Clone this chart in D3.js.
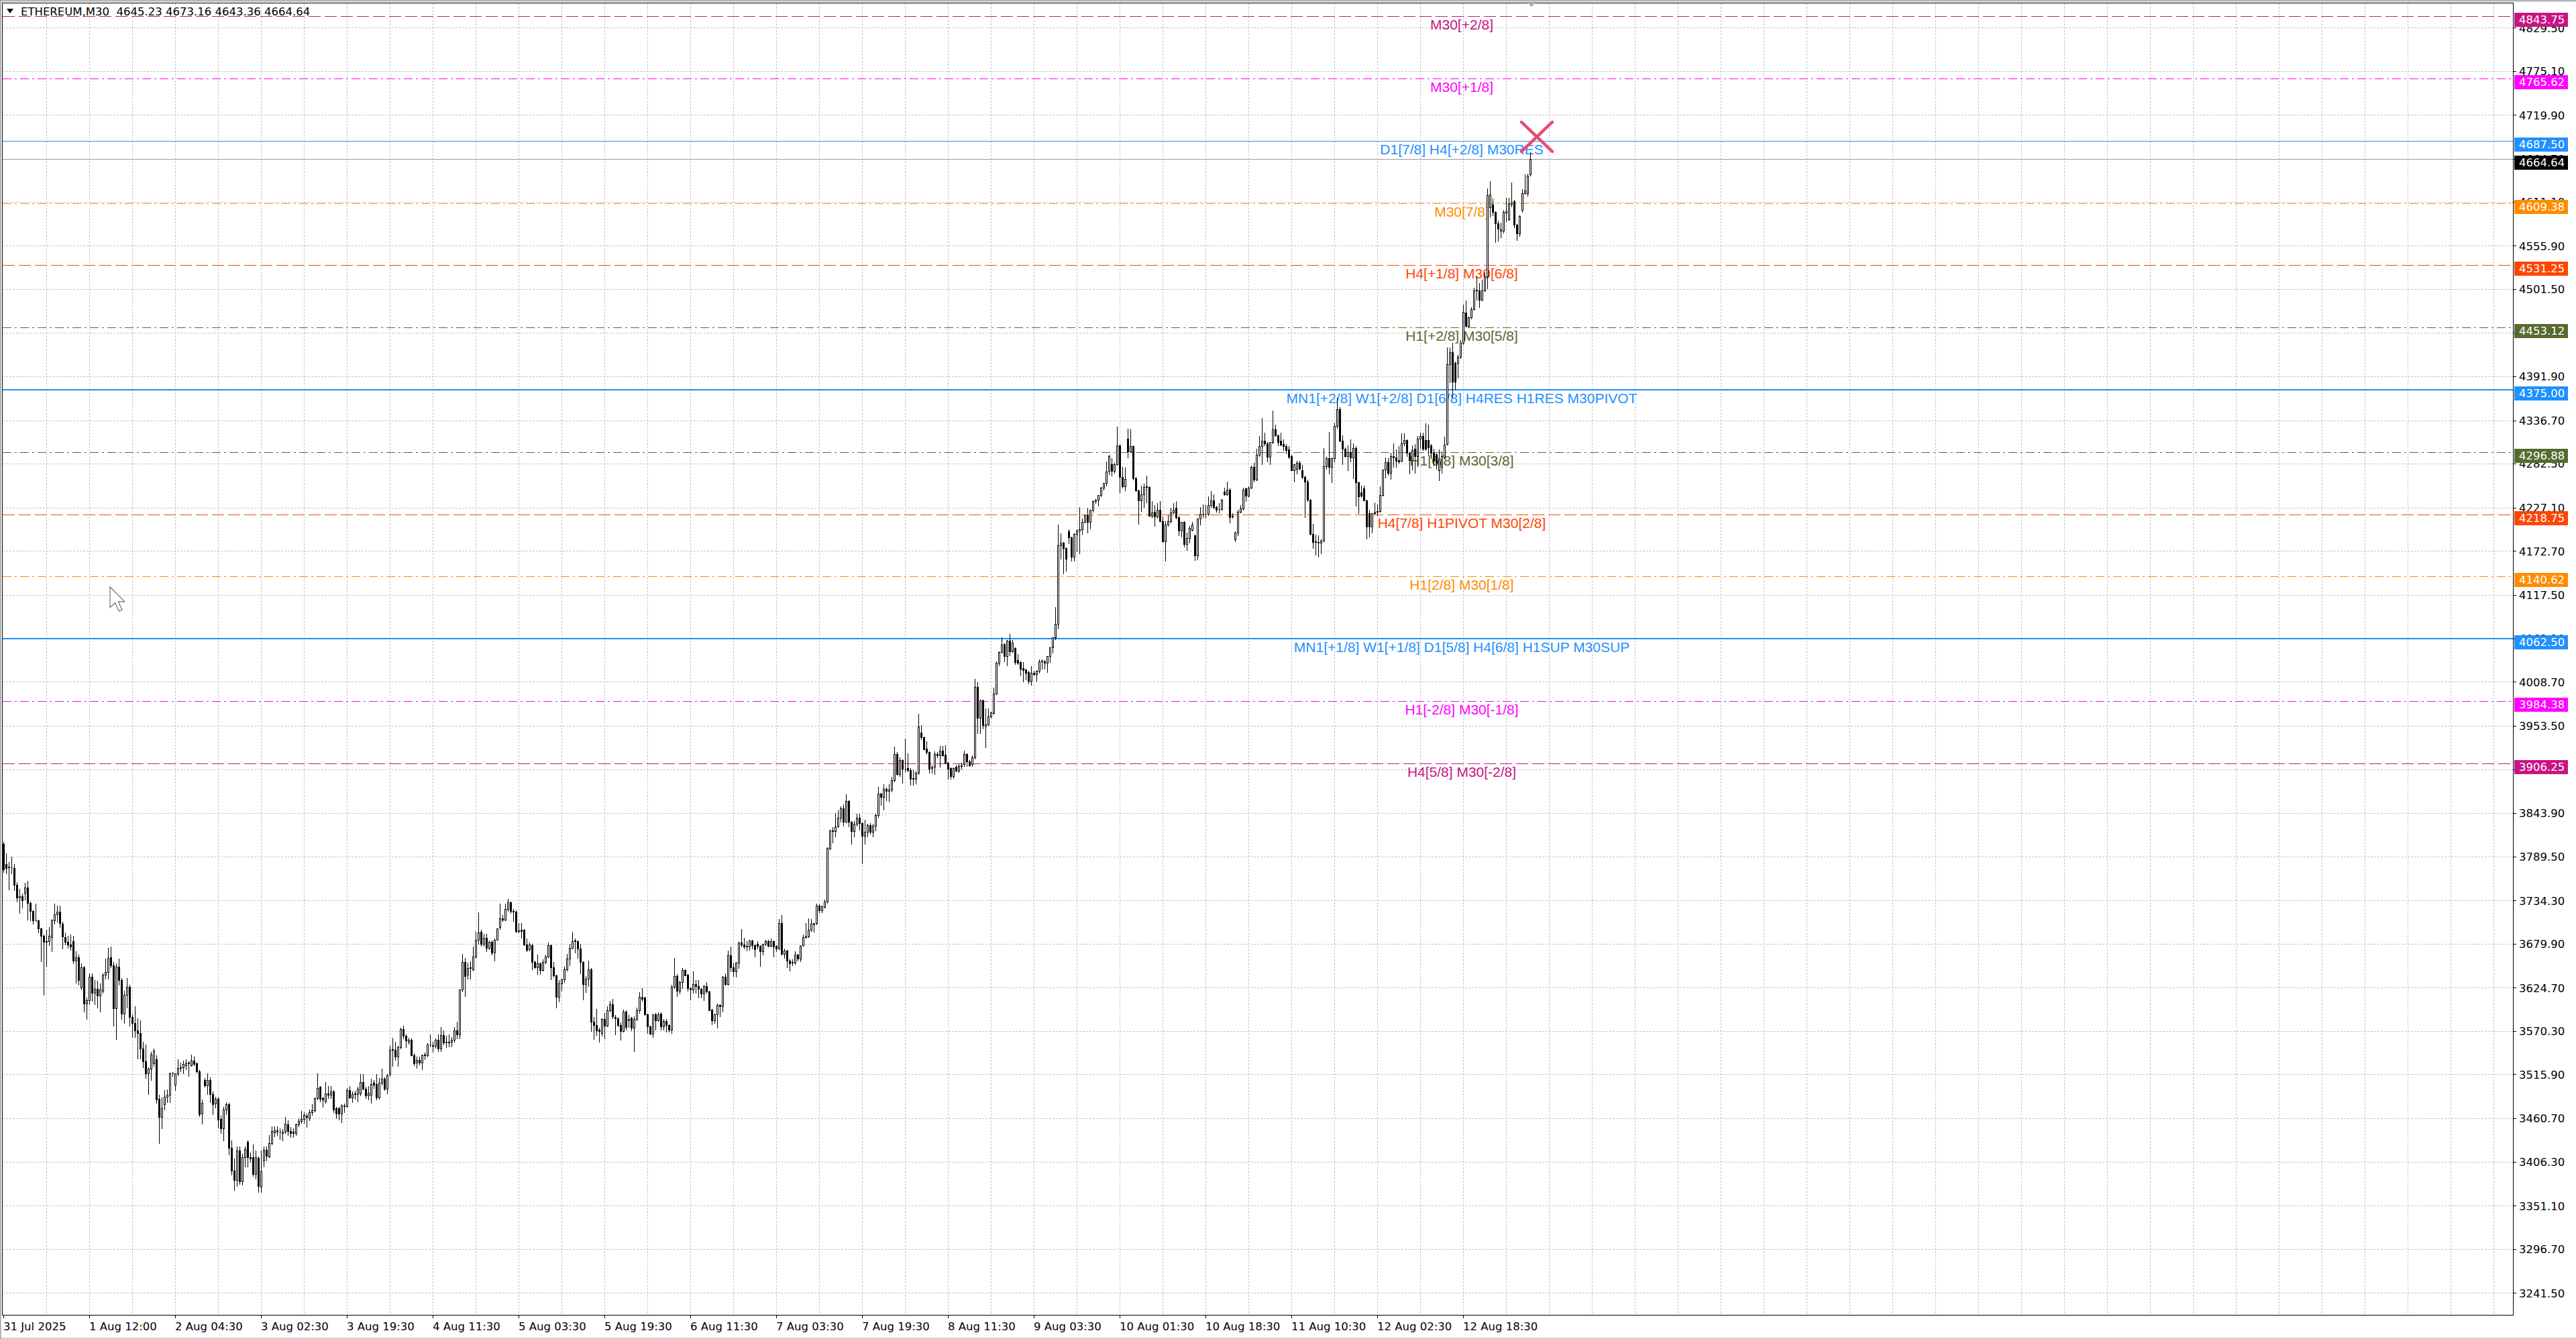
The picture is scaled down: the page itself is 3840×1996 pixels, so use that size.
<!DOCTYPE html>
<html>
<head>
<meta charset="utf-8">
<script src="https://cdn.jsdelivr.net/npm/d3@7"></script>
<style>
  html, body { margin: 0; padding: 0; background: #ffffff; }
  svg { display: block; }
</style>
</head>
<body>
<svg id="chart" width="3840" height="1996"></svg>
<script>
// ---------- data ----------
const chartTitle = "ETHEREUM,M30  4645.23 4673.16 4643.36 4664.64";
const bidPrice = 4664.64;

// M30 candles, [open, high, low, close], oldest first
const candles = [
[3805,3808,3770,3773],[3780,3793,3768,3775],[3776,3782,3748,3776.5],[3776,3789,3768,3776],[3775,3780,3747,3754],
[3754,3757,3733,3738],[3738,3749,3718,3739],[3739,3743,3725,3734],[3744,3756,3735,3750],[3750,3759,3710,3731],
[3731,3733,3709,3721],[3721,3722,3705,3709],[3709,3730,3708,3709.5],[3709,3710,3694,3699],[3699,3700,3658,3690],
[3690,3691,3616,3682],[3682,3697,3652,3683],[3683,3701,3678,3690],[3688,3711,3670,3709],[3709,3730,3705,3717],
[3717,3728,3707,3720],[3720,3728,3701,3706],[3705,3707,3674,3689],[3688,3694,3679,3682],[3682,3690,3675,3679],
[3679,3691,3672,3676],[3683,3690,3655,3659],[3659,3670,3631,3663],[3663,3666,3628,3634],[3625,3655,3622,3650],
[3650,3652,3595,3605],[3605,3612,3585,3609],[3609,3643,3604,3638],[3638,3643,3608,3618],[3618,3634,3604,3623],
[3623,3633,3600,3615],[3615,3630,3595,3622],[3621,3643,3618,3641],[3641,3661,3636,3644],[3644,3675,3636,3662],
[3663,3676,3650,3653],[3653,3657,3577,3599],[3599,3655,3560,3651],[3651,3661,3628,3634],[3634,3637,3585,3592],
[3592,3621,3580,3616],[3616,3637,3600,3626],[3626,3628,3577,3588],[3588,3590,3563,3580],[3580,3601,3563,3571],
[3571,3586,3536,3568],[3568,3584,3536,3548],[3548,3557,3525,3532],[3532,3553,3511,3517],[3517,3525,3491,3523],
[3523,3544,3509,3541],[3530,3548,3526,3546],[3535,3540,3480,3484],[3485,3490,3430,3462],[3462,3487,3448,3473],
[3478,3496,3472,3488],[3488,3497,3481,3490],[3490,3518,3481,3517],[3517,3519,3514,3517.5],[3503,3517,3496,3517],
[3517,3535,3515,3524],[3524,3531,3520,3524.5],[3525,3533,3517,3529],[3527,3535,3522,3530],[3530,3532,3514,3530.5],
[3527,3541,3526,3533],[3533,3538,3527,3529],[3530,3531,3518,3520],[3520,3521,3463,3466],[3467,3484,3454,3480],
[3509,3511,3500,3502],[3502,3517,3491,3509],[3509,3512,3481,3491],[3491,3494,3466,3478],[3479,3488,3474,3485],
[3485,3488,3449,3459],[3460,3464,3442,3448],[3448,3475,3433,3472],[3472,3481,3466,3478],[3478,3480,3415,3424],
[3424,3433,3390,3395],[3395,3410,3371,3383],[3383,3425,3376,3420],[3420,3425,3378,3382],[3382,3416,3377,3412],
[3412,3425,3400,3422],[3431,3433,3400,3412],[3412,3418,3406,3410],[3412,3428,3388,3391],[3391,3420,3385,3412],
[3411,3413,3368,3376],[3375,3420,3368,3394],[3408,3425,3400,3421],[3421,3425,3408,3414],[3413,3440,3412,3430],
[3430,3451,3428,3445],[3443,3451,3438,3446],[3446,3451,3440,3444],[3444,3448,3435,3443.5],[3442,3447,3433,3444],
[3444,3462,3442,3454],[3453,3458,3440,3445],[3445,3450,3437,3442],[3444,3448,3437,3442],[3442,3454,3440,3453],
[3453,3461,3451,3457],[3457,3470,3455,3460],[3460,3468,3455,3465],[3464,3467,3450,3462],[3461,3472,3458,3468],
[3468,3478,3465,3471],[3471,3487,3469,3486],[3486,3517,3484,3499],[3500,3501,3482,3485],[3486,3488,3475,3484],
[3482,3506,3480,3492],[3492,3501,3486,3490],[3490,3501,3486,3494],[3494,3496,3468,3472],[3473,3475,3461,3467],
[3473,3475,3459,3467],[3467,3478,3456,3477],[3477,3479,3468,3476],[3476,3499,3475,3496],[3496,3501,3486,3487],
[3487,3494,3481,3491],[3491,3495,3485,3491.5],[3491,3500,3482,3498],[3492,3516,3489,3506],[3506,3516,3497,3498],
[3498,3500,3486,3489],[3489,3501,3484,3493],[3490,3510,3480,3504],[3505,3509,3499,3503],[3504,3516,3484,3487],
[3487,3511,3485,3505],[3505,3523,3503,3510],[3510,3512,3496,3498],[3498,3516,3492,3515],[3516,3552,3514,3547],
[3547,3562,3526,3547.5],[3547,3557,3534,3538],[3538,3552,3526,3550],[3550,3574,3548,3573],[3573,3577,3561,3564],
[3564,3566,3550,3558],[3557,3562,3554,3559],[3559,3561,3539,3540],[3540,3542,3527,3530],[3531,3538,3524,3534],
[3534,3538,3528,3531],[3531,3541,3522,3540],[3540,3543,3535,3541],[3540,3555,3538,3553],[3553,3566,3551,3553.5],
[3552,3557,3544,3552.5],[3552,3561,3549,3559],[3559,3566,3545,3548],[3548,3575,3545,3565],[3565,3571,3553,3556],
[3556,3564,3550,3556.5],[3556,3566,3551,3557],[3557,3563,3551,3559],[3559,3575,3557,3571],[3571,3582,3561,3566],
[3566,3622,3561,3622],[3622,3667,3620,3657],[3657,3662,3614,3639],[3641,3656,3636,3649],[3649,3658,3636,3650],
[3648,3676,3646,3664],[3664,3695,3662,3685],[3685,3719,3680,3694],[3695,3697,3677,3680],[3680,3692,3677,3687],
[3687,3692,3670,3675],[3675,3684,3673,3682],[3682,3684,3666,3669],[3669,3686,3659,3685],[3685,3699,3685,3699],
[3701,3730,3698,3712],[3712,3716,3708,3710],[3710,3730,3709,3723],[3723,3736,3721,3732],[3732,3733,3718,3721],
[3721,3723,3708,3720],[3720,3722,3694,3696],[3696,3706,3694,3696.5],[3697,3706,3687,3696],[3697,3698,3678,3679],
[3679,3686,3670,3672],[3673,3681,3671,3679],[3678,3680,3648,3657],[3657,3659,3649,3650],[3650,3666,3642,3655],
[3655,3656,3642,3647],[3647,3660,3646,3657],[3657,3666,3655,3664],[3664,3681,3663,3678],[3678,3679,3635,3650],
[3650,3657,3638,3640],[3640,3641,3600,3613],[3613,3634,3607,3630],[3630,3636,3621,3635],[3635,3651,3632,3648],
[3648,3667,3646,3661],[3661,3680,3653,3675],[3675,3695,3674,3683],[3683,3686,3669,3683.5],[3683,3684,3662,3674],
[3674,3680,3643,3657],[3657,3658,3610,3629],[3629,3639,3619,3636],[3636,3659,3627,3648],[3648,3649,3570,3582],
[3582,3588,3560,3578],[3578,3598,3565,3571],[3572,3574,3557,3570],[3568,3586,3564,3585],[3585,3593,3561,3577],
[3577,3601,3576,3596],[3596,3608,3595,3604],[3604,3611,3586,3589],[3588,3590,3566,3586],[3586,3587,3576,3578],
[3578,3581,3559,3570],[3570,3597,3569,3595],[3595,3596,3572,3575],[3584,3590,3575,3585],[3587,3588,3571,3574],
[3574,3589,3545,3585],[3585,3600,3584,3596],[3596,3619,3593,3613],[3613,3624,3608,3611],[3612,3613,3590,3591],
[3591,3592,3568,3576],[3576,3577,3566,3567],[3567,3591,3563,3591],[3591,3593,3572,3584],[3584,3594,3583,3591],
[3592,3594,3572,3576],[3576,3585,3572,3583],[3583,3585,3569,3578],[3578,3579,3569,3572],[3572,3628,3568,3626],
[3626,3662,3624,3639],[3639,3642,3614,3621],[3621,3633,3617,3632],[3632,3649,3624,3647],[3647,3648,3640,3640],
[3641,3642,3621,3624],[3624,3625,3610,3622],[3622,3645,3618,3629],[3629,3634,3618,3627],[3627,3634,3612,3623],
[3623,3624,3612,3617],[3617,3628,3609,3627],[3627,3632,3618,3620],[3620,3621,3596,3596],[3597,3598,3579,3584],
[3584,3592,3580,3591],[3591,3605,3574,3603],[3603,3604,3589,3601],[3601,3639,3595,3638],[3638,3643,3628,3629],
[3629,3671,3628,3665],[3665,3676,3645,3650],[3650,3655,3639,3645],[3645,3657,3638,3656],[3656,3682,3649,3681],
[3681,3698,3676,3679],[3679,3687,3674,3676],[3677,3683,3671,3676],[3676,3685,3672,3684],[3684,3685,3674,3678],
[3678,3679,3664,3673],[3680,3683,3674,3677],[3677,3678,3652,3670],[3670,3680,3666,3680],[3680,3685,3678,3683],
[3683,3685,3676,3677],[3677,3686,3676,3683],[3683,3684,3664,3676],[3677,3678,3670,3674],[3674,3711,3673,3706],
[3706,3716,3666,3667],[3667,3674,3662,3671],[3671,3672,3650,3659],[3659,3660,3646,3655],[3656,3660,3653,3656.5],
[3656,3670,3654,3666],[3666,3667,3659,3661],[3661,3678,3658,3677],[3678,3691,3677,3688],[3688,3706,3687,3689],
[3689,3712,3688,3697],[3697,3711,3696,3705],[3704,3706,3695,3706],[3706,3730,3704,3728],[3728,3729,3719,3722],
[3722,3728,3719,3727],[3726,3735,3725,3733],[3733,3801,3731,3800],[3799,3823,3798,3822],[3822,3826,3807,3821],
[3821,3844,3814,3827],[3827,3847,3826,3838],[3838,3852,3833,3850],[3850,3855,3828,3833],[3833,3867,3832,3859],
[3859,3860,3827,3833],[3833,3834,3805,3821],[3821,3834,3814,3830],[3830,3843,3828,3838],[3838,3843,3823,3831],
[3831,3832,3781,3815],[3815,3835,3805,3820],[3820,3830,3814,3829],[3829,3831,3818,3820],[3820,3830,3814,3828],
[3828,3843,3822,3841],[3841,3877,3839,3868],[3868,3869,3854,3864],[3864,3880,3848,3874],[3874,3876,3860,3872],
[3872,3880,3858,3873],[3873,3889,3871,3885],[3885,3927,3883,3918],[3918,3920,3892,3893],[3893,3914,3890,3910],
[3910,3911,3882,3899],[3899,3937,3896,3899.5],[3900,3919,3896,3898],[3898,3900,3879,3887],[3888,3898,3879,3887],
[3887,3896,3881,3894],[3894,3968,3893,3952],[3945,3954,3936,3939],[3939,3940,3924,3924],[3925,3934,3918,3920],
[3920,3921,3894,3899],[3900,3904,3894,3902],[3902,3921,3893,3918],[3918,3920,3914,3916],[3916,3928,3902,3922],
[3922,3928,3915,3916],[3917,3929,3906,3907],[3907,3908,3887,3899],[3900,3901,3887,3890],[3890,3901,3888,3900],
[3902,3904,3896,3897],[3897,3905,3895,3903],[3903,3907,3899,3903.5],[3905,3922,3903,3918],[3918,3919,3903,3909],
[3909,3910,3903,3904],[3905,3916,3903,3914],[3914,4012,3912,4002],[4002,4008,3944,3963],[3963,3986,3944,3985],
[3985,3986,3950,3954],[3953,3975,3926,3955],[3955,3975,3954,3965],[3965,3971,3963,3970],[3969,4001,3968,3994],
[3994,4034,3993,4032],[4032,4047,4029,4046],[4046,4064,4045,4055],[4056,4057,4034,4041],[4041,4061,4029,4060],
[4060,4069,4042,4047],[4047,4061,4046,4058],[4051,4052,4031,4033],[4036,4043,4031,4032],[4033,4034,4016,4025],
[4026,4033,4009,4023],[4024,4025,4011,4020],[4021,4022,4006,4010],[4010,4028,4005,4020],[4020,4022,4016,4018],
[4018,4023,4010,4022],[4022,4037,4020,4034],[4034,4037,4025,4034.5],[4034,4036,4025,4032],[4032,4041,4021,4041],
[4041,4052,4033,4052],[4052,4064,4045,4064],[4064,4102,4062,4081],[4081,4206,4075,4180],[4180,4195,4163,4183],
[4183,4184,4144,4176],[4176,4177,4148,4163],[4197,4200,4182,4190],[4190,4191,4160,4165],[4165,4195,4160,4194],
[4194,4200,4172,4198],[4198,4228,4170,4200],[4200,4213,4194,4209],[4209,4218,4208,4218],[4218,4227,4196,4209],
[4209,4224,4201,4224],[4224,4236,4222,4235],[4235,4238,4233,4237],[4237,4243,4229,4243],[4243,4253,4241,4252],
[4252,4258,4250,4258],[4258,4285,4255,4272],[4273,4293,4269,4292],[4282,4289,4267,4273],[4273,4283,4271,4282],
[4282,4329,4281,4305],[4305,4306,4246,4266],[4266,4278,4252,4254],[4254,4277,4249,4263],[4314,4326,4290,4298],
[4298,4325,4297,4304],[4304,4305,4262,4264],[4264,4266,4248,4249],[4249,4250,4207,4236],[4236,4255,4223,4244],
[4244,4257,4228,4253],[4253,4267,4234,4253.5],[4253,4254,4217,4217],[4217,4235,4215,4221],[4222,4230,4204,4216],
[4216,4233,4214,4224],[4224,4235,4210,4210],[4210,4216,4184,4185],[4185,4210,4160,4206],[4206,4218,4204,4210],
[4210,4227,4208,4221],[4221,4233,4220,4224],[4227,4235,4213,4215],[4215,4216,4192,4198],[4198,4209,4191,4209],
[4209,4210,4178,4181],[4181,4196,4174,4189],[4189,4204,4183,4202],[4199,4209,4198,4206],[4192,4193,4161,4167],
[4167,4213,4162,4213],[4213,4228,4206,4219],[4219,4231,4215,4219.5],[4219,4230,4214,4219.5],[4219,4241,4218,4230],
[4230,4248,4228,4236],[4236,4244,4226,4228],[4228,4229,4222,4224],[4225,4233,4221,4225.5],[4225,4238,4224,4237],
[4247,4252,4243,4244],[4244,4260,4243,4250],[4250,4251,4208,4215],[4217,4220,4214,4216],[4187,4197,4185,4196],
[4196,4224,4192,4222],[4222,4230,4221,4226],[4226,4252,4224,4250],[4251,4252,4235,4242],[4242,4254,4241,4252],
[4252,4280,4251,4278],[4278,4283,4260,4262],[4262,4301,4261,4293],[4293,4317,4292,4304],[4304,4340,4282,4311],
[4311,4321,4305,4308],[4308,4309,4285,4291],[4291,4309,4282,4309],[4309,4349,4308,4325],[4325,4331,4317,4318],
[4318,4319,4305,4309],[4311,4321,4305,4306],[4307,4313,4299,4304],[4304,4307,4295,4299],[4300,4304,4289,4291],
[4292,4293,4274,4274],[4274,4282,4260,4282],[4276,4286,4270,4283],[4283,4286,4276,4276],[4274,4281,4264,4266],
[4266,4267,4215,4260],[4260,4262,4235,4237],[4237,4238,4193,4194],[4194,4207,4176,4184],[4184,4193,4168,4184.5],
[4184,4192,4165,4183],[4183,4187,4170,4186],[4186,4302,4185,4279],[4279,4291,4276,4289],[4289,4322,4270,4278],
[4278,4290,4259,4289],[4289,4334,4285,4330],[4330,4365,4327,4351],[4351,4353,4310,4311],[4311,4318,4282,4301],
[4301,4303,4291,4292],[4292,4305,4274,4297],[4297,4313,4285,4290],[4290,4308,4264,4302],[4302,4304,4229,4259],
[4259,4260,4220,4241],[4246,4255,4240,4242],[4251,4255,4236,4236],[4236,4237,4188,4203],[4220,4224,4191,4203],
[4203,4220,4196,4220],[4220,4234,4219,4222],[4222,4231,4218,4223],[4223,4254,4222,4243],[4243,4275,4242,4275],
[4275,4290,4265,4284],[4284,4289,4268,4271],[4271,4296,4263,4292],[4292,4308,4278,4290],[4290,4300,4278,4286],
[4287,4304,4283,4285],[4286,4320,4285,4308],[4308,4320,4305,4312],[4312,4313,4292,4296],[4296,4297,4270,4287],
[4287,4305,4275,4299],[4301,4307,4271,4292],[4292,4317,4279,4314],[4314,4321,4302,4317],[4317,4321,4299,4301],
[4312,4333,4299,4301],[4312,4331,4293,4303],[4305,4307,4289,4296],[4296,4301,4280,4286],[4294,4295,4276,4283],
[4274,4300,4261,4288],[4278,4298,4271,4292],[4291,4316,4289,4306],[4307,4428,4306,4407],[4407,4428,4384,4422],
[4422,4434,4366,4385],[4409,4410,4376,4385],[4409,4419,4390,4416],[4416,4437,4415,4434],[4434,4482,4432,4473],
[4472,4487,4454,4455],[4455,4467,4454,4466],[4466,4479,4464,4476],[4476,4503,4475,4500],[4500,4517,4488,4500.5],
[4500,4509,4479,4488],[4488,4513,4487,4500],[4500,4522,4499,4517],[4517,4628,4502,4619],[4604,4637,4592,4620],
[4607,4615,4594,4598],[4598,4599,4560,4584],[4584,4587,4562,4577],[4575,4585,4566,4576],[4575,4601,4572,4598],
[4597,4616,4586,4599],[4589,4616,4588,4608],[4608,4635,4605,4610],[4612,4613,4579,4582],[4582,4583,4563,4571],
[4571,4594,4568,4593],[4601,4627,4598,4622],[4622,4645,4621,4625],[4622,4646,4618,4644],[4645.23,4673.16,4643.36,4664.64]
];

// bottom time scale: bar index of each label and its text
const timeTickBars = [0, 32, 64, 96, 128, 160, 192, 224, 256, 288, 320, 352, 384, 416, 448, 480, 512, 544];
const timeTickLabels = ["31 Jul 2025", "1 Aug 12:00", "2 Aug 04:30", "3 Aug 02:30", "3 Aug 19:30", "4 Aug 11:30",
  "5 Aug 03:30", "5 Aug 19:30", "6 Aug 11:30", "7 Aug 03:30", "7 Aug 19:30", "8 Aug 11:30", "9 Aug 03:30",
  "10 Aug 01:30", "10 Aug 18:30", "11 Aug 10:30", "12 Aug 02:30", "12 Aug 18:30"];

// right price scale
const priceTicks = [4829.50, 4775.10, 4719.90, 4664.70, 4611.10, 4555.90, 4501.50, 4446.70, 4391.90, 4336.70,
  4282.50, 4227.10, 4172.70, 4117.50, 4063.10, 4008.70, 3953.50, 3898.90, 3843.90, 3789.50, 3734.30, 3679.90,
  3624.70, 3570.30, 3515.90, 3460.70, 3406.30, 3351.10, 3296.70, 3241.50];

// Murrey math levels
const levelPrices = [4843.75, 4765.62, 4687.50, 4609.38, 4531.25, 4453.12, 4375.00, 4296.88, 4218.75, 4140.62, 4062.50, 3984.38, 3906.25];
const levelNames = ["M30[+2/8]", "M30[+1/8]", "D1[7/8] H4[+2/8] M30RES", "M30[7/8]", "H4[+1/8] M30[6/8]",
  "H1[+2/8] M30[5/8]", "MN1[+2/8] W1[+2/8] D1[6/8] H4RES H1RES M30PIVOT", "H1[6/8] M30[3/8]",
  "H4[7/8] H1PIVOT M30[2/8]", "H1[2/8] M30[1/8]", "MN1[+1/8] W1[+1/8] D1[5/8] H4[6/8] H1SUP M30SUP",
  "H1[-2/8] M30[-1/8]", "H4[5/8] M30[-2/8]"];
const levelOctaves = [10, 9, 8, 7, 6, 5, 4, 3, 2, 1, 0, -1, -2];

// cross marker object
const markerBar = 571.5;
const markerPrice = 4692.5;

// ---------- layout ----------
const W = 3840, H = 1996;
const plot = { left: 3.5, top: 4.5, right: 3746.5, bottom: 1960.5 };
const barSpacing = 4, firstBarX = 5;
const axisFont = "'DejaVu Sans', Verdana, sans-serif";
const labelFont = "'Liberation Sans', Arial, sans-serif";

const octaveStyle = {
  10: { color: "#C71585", dash: "18,6" },
  9:  { color: "#FF00FF", dash: "13,5,3,5" },
  8:  { color: "#1E90FF", dash: null },
  7:  { color: "#FF8C00", dash: "13,5,3,5" },
  6:  { color: "#FF4500", dash: "18,6" },
  5:  { color: "#556B2F", dash: "13,5,3,5" },
  4:  { color: "#1E90FF", dash: null },
  3:  { color: "#556B2F", dash: "13,5,3,5" },
  2:  { color: "#FF4500", dash: "18,6" },
  1:  { color: "#FF8C00", dash: "13,5,3,5" },
  0:  { color: "#1E90FF", dash: null },
  "-1": { color: "#FF00FF", dash: "13,5,3,5" },
  "-2": { color: "#C71585", dash: "18,6" }
};

const svg = d3.select("#chart");

const x = d3.scaleLinear()
  .domain([0, 1])
  .range([firstBarX, firstBarX + barSpacing]);

// price scale anchored on two of the axis ticks
const y = d3.scaleLinear()
  .domain([3241.5, 4719.9])
  .range([1927.4, 171.4]);

const px = v => Math.round(v) + 0.5;

// background
svg.append("rect").attr("width", W).attr("height", H).attr("fill", "#ffffff");

// ---------- grid ----------
const grid = svg.append("g").attr("shape-rendering", "crispEdges")
  .attr("stroke", "#c4c4c4").attr("stroke-width", 1).attr("stroke-dasharray", "3,2");

const lastGridBar = Math.floor(x.invert(plot.right - 2));
grid.selectAll("line.v")
  .data(d3.range(16, lastGridBar + 1, 16))
  .join("line")
  .attr("x1", d => px(x(d))).attr("x2", d => px(x(d)))
  .attr("y1", plot.top).attr("y2", plot.bottom);

grid.selectAll("line.h")
  .data(priceTicks)
  .join("line")
  .attr("x1", plot.left).attr("x2", plot.right)
  .attr("y1", d => px(y(d))).attr("y2", d => px(y(d)));

// ---------- levels (background objects) ----------
const levels = levelPrices.map((p, i) => ({ price: p, name: levelNames[i], oct: levelOctaves[i] }));
const isMajor = d => d.name.includes("MN1");

const levelG = svg.append("g");
levelG.selectAll("line")
  .data(levels)
  .join("line")
  .attr("x1", plot.left).attr("x2", plot.right)
  .attr("y1", d => isMajor(d) ? Math.round(y(d.price)) : px(y(d.price)))
  .attr("y2", d => isMajor(d) ? Math.round(y(d.price)) : px(y(d.price)))
  .attr("stroke", d => octaveStyle[d.oct].color)
  .attr("stroke-width", d => isMajor(d) ? 2 : 1)
  .attr("stroke-dasharray", d => octaveStyle[d.oct].dash)
  .attr("shape-rendering", "crispEdges");

// bid line
levelG.append("line")
  .attr("x1", plot.left).attr("x2", plot.right)
  .attr("y1", px(y(bidPrice))).attr("y2", px(y(bidPrice)))
  .attr("stroke", "#9a9a9a").attr("stroke-width", 1)
  .attr("shape-rendering", "crispEdges");

const labelCenterX = 2179;
levelG.selectAll("text")
  .data(levels)
  .join("text")
  .attr("x", labelCenterX)
  .attr("y", d => y(d.price) + 20)
  .attr("text-anchor", "middle")
  .attr("font-family", labelFont)
  .attr("font-size", 21)
  .attr("fill", d => octaveStyle[d.oct].color)
  .text(d => d.name);

// ---------- candles ----------
const bars = candles.map((c, i) => ({
  i: i, o: c[0], c: c[3],
  h: Math.max(c[1], c[0], c[3]),
  l: Math.min(c[2], c[0], c[3])
}));

const candleG = svg.append("g").attr("shape-rendering", "crispEdges");

candleG.selectAll("line.wick")
  .data(bars)
  .join("line")
  .attr("class", "wick")
  .attr("x1", d => px(x(d.i))).attr("x2", d => px(x(d.i)))
  .attr("y1", d => Math.round(y(d.h))).attr("y2", d => Math.round(y(d.l)) + 1)
  .attr("stroke", "#000").attr("stroke-width", 1);

candleG.selectAll("path.body")
  .data(bars)
  .join("path")
  .attr("class", "body")
  .attr("d", d => {
    const cx = Math.round(x(d.i));
    const top = px(y(Math.max(d.o, d.c)));
    const bot = px(y(Math.min(d.o, d.c)));
    return `M${cx - 0.5},${top}H${cx + 1.5}V${bot}H${cx - 0.5}Z`;
  })
  .attr("fill", d => d.c >= d.o ? "#ffffff" : "#000000")
  .attr("stroke", "#000").attr("stroke-width", 1);

// ---------- cross marker ----------
const mx = x(markerBar), my = y(markerPrice);
svg.append("path")
  .attr("d", `M${mx - 23},${my - 22}L${mx + 23},${my + 22}M${mx + 23},${my - 22}L${mx - 23},${my + 22}`)
  .attr("stroke", "#e8416a").attr("stroke-width", 4.5).attr("stroke-linecap", "round")
  .attr("fill", "none").attr("opacity", 0.95);

// ---------- frame ----------
svg.append("rect")
  .attr("x", plot.left).attr("y", plot.top)
  .attr("width", plot.right - plot.left).attr("height", plot.bottom - plot.top)
  .attr("fill", "none").attr("stroke", "#000").attr("stroke-width", 1)
  .attr("shape-rendering", "crispEdges");

// ---------- price axis ----------
const boxes = levels.map(d => ({ price: d.price, color: octaveStyle[d.oct].color }))
  .concat([{ price: bidPrice, color: "#000000" }]);
const boxTop = p => Math.round(y(p)) - 5;
const boxH = 21;

// tick labels that a price box covers completely are not printed
const hiddenTick = t => boxes.some(b => {
  const ty = y(t);
  return ty - 6 >= boxTop(b.price) - 1 && ty + 6 <= boxTop(b.price) + boxH + 1;
});

const yAxis = d3.axisRight(y)
  .tickValues(priceTicks)
  .tickFormat(d => hiddenTick(d) ? "" : d3.format(".2f")(d))
  .tickSize(4)
  .tickPadding(4);

const yAxisG = svg.append("g")
  .attr("transform", `translate(${plot.right},0)`)
  .call(yAxis);
yAxisG.select(".domain").remove();
yAxisG.attr("font-family", axisFont).attr("font-size", 16.5);
yAxisG.selectAll(".tick line").attr("stroke", "#000").attr("shape-rendering", "crispEdges");
yAxisG.selectAll(".tick text").attr("fill", "#000").attr("x", 8.5).attr("dy", "0.36em");

// price boxes for levels and bid
const boxG = svg.append("g");
boxG.selectAll("rect")
  .data(boxes)
  .join("rect")
  .attr("x", plot.right + 1.5)
  .attr("y", d => boxTop(d.price))
  .attr("width", 80).attr("height", boxH)
  .attr("fill", d => d.color)
  .attr("shape-rendering", "crispEdges");
boxG.selectAll("text")
  .data(boxes)
  .join("text")
  .attr("x", plot.right + 8.5)
  .attr("y", d => boxTop(d.price) + boxH / 2)
  .attr("dy", "0.36em")
  .attr("font-family", axisFont).attr("font-size", 16.5)
  .attr("fill", "#ffffff")
  .text(d => d3.format(".2f")(d.price));

// ---------- time axis ----------
const xAxis = d3.axisBottom(x)
  .tickValues(timeTickBars)
  .tickFormat((d, i) => timeTickLabels[i])
  .tickSize(5);

const xAxisG = svg.append("g")
  .attr("transform", `translate(0,${plot.bottom - 0.5})`)
  .call(xAxis);
xAxisG.select(".domain").remove();
xAxisG.attr("font-family", axisFont).attr("font-size", 16.5);
xAxisG.selectAll(".tick line").attr("stroke", "#000").attr("shape-rendering", "crispEdges");
xAxisG.selectAll(".tick text")
  .attr("fill", "#000").attr("text-anchor", "start")
  .attr("x", -0.5).attr("y", 23).attr("dy", 0);

// ---------- window chrome ----------
svg.append("rect").attr("x", 0).attr("y", 0).attr("width", W).attr("height", 2.5).attr("fill", "#b4b4b4");
svg.append("rect").attr("x", 0).attr("y", H - 2).attr("width", W).attr("height", 2).attr("fill", "#d0d0d0");
svg.append("rect").attr("x", 0).attr("y", 0).attr("width", 1.5).attr("height", H).attr("fill", "#a0a0a0");

// shift marker at the top
const sx = x(candles.length - 0.5);
svg.append("path")
  .attr("d", `M${sx - 7},3 L${sx + 7},3 L${sx},10 Z`)
  .attr("fill", "#a8a8a8");

// title
const titleG = svg.append("g");
titleG.append("path").attr("d", "M10,13 L20,13 L15,20 Z").attr("fill", "#000");
titleG.append("text")
  .attr("x", 31).attr("y", 23)
  .attr("font-family", axisFont).attr("font-size", 16.5)
  .attr("fill", "#000")
  .style("white-space", "pre")
  .text(chartTitle);

// mouse pointer left on the chart
svg.append("path")
  .attr("transform", "translate(164,875) scale(1.9)")
  .attr("d", "M0,0 L0,16 L4,12.5 L7,19 L9.5,18 L6.5,11.5 L11.5,11.5 Z")
  .attr("fill", "#ffffff").attr("stroke", "#6a6a6a").attr("stroke-width", 0.6);
</script>
</body>
</html>
